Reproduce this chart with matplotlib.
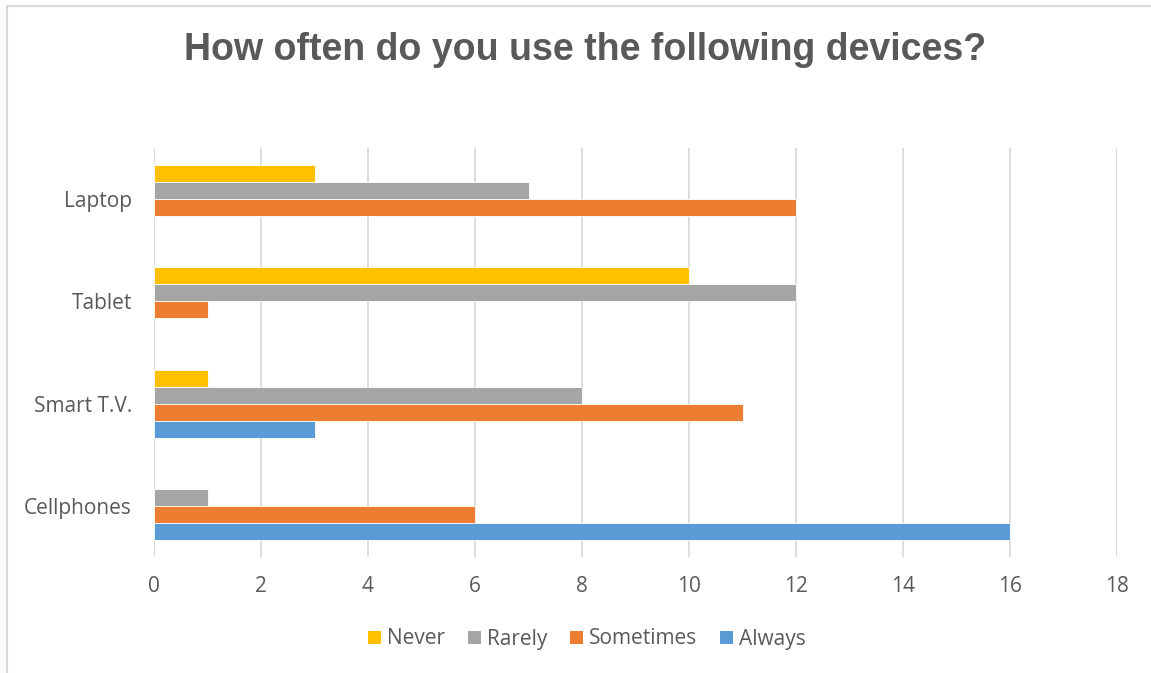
import matplotlib.pyplot as plt
from matplotlib.patches import Patch, Rectangle
import numpy as np

# Survey counts per device and frequency
devices = ['Cellphones', 'Smart T.V.', 'Tablet', 'Laptop']
series = ['Never', 'Rarely', 'Sometimes', 'Always']
never = [0, 1, 10, 3]
rarely = [1, 8, 12, 7]
sometimes = [6, 11, 1, 12]
always = [16, 3, 0, 0]
colors = ['#FFC000', '#A5A5A5', '#ED7D31', '#5B9BD5']

txt = '#595959'
fig = plt.figure(figsize=(11.51, 6.73), dpi=100)
ax = fig.add_axes([154 / 1151, 1 - 557 / 673, 963 / 1151, 409 / 673])

y = np.arange(len(devices))
h = 1 / 6
offsets = [1.5 * h, 0.5 * h, -0.5 * h, -1.5 * h]
for vals, off, c in zip([never, rarely, sometimes, always], offsets, colors):
    lw = [0.6 if v else 0 for v in vals]
    ax.barh(y + off, vals, height=h, color=c, edgecolor='white', linewidth=lw, zorder=3)

ax.set_xlim(0, 18)
ax.set_ylim(-0.5, 3.5)
ax.set_xticks(range(0, 19, 2))
ax.set_yticks(y)
ax.set_yticklabels(devices)
ax.grid(axis='x', color='#D9D9D9', linewidth=1.3, zorder=0)
for s in ax.spines.values():
    s.set_visible(False)
ax.tick_params(length=0, labelsize=15, labelcolor=txt)
ax.tick_params(axis='y', pad=16)
ax.tick_params(axis='x', pad=14)
for lab in ax.get_xticklabels() + ax.get_yticklabels():
    lab.set_family('Open Sans')

fig.text(585 / 1151, 1 - 50 / 673, 'How often do you use the following devices?',
         ha='center', va='center', fontsize=27, fontweight='bold',
         color=txt, family='Liberation Sans')

handles = [Patch(facecolor=c, label=s) for s, c in zip(series, colors)]
fig.legend(handles=handles, loc='center', bbox_to_anchor=(587 / 1151, 1 - 639 / 673),
           ncol=4, frameon=False, handlelength=0.6, handleheight=0.6,
           handletextpad=0.3, columnspacing=1.1,
           prop={'family': 'Open Sans', 'size': 15}, labelcolor=txt)

# chart frame
fig.add_artist(Rectangle((7 / 1151, -0.1), 2, 1 - 6 / 673 + 0.1, transform=fig.transFigure,
                         fill=False, edgecolor='#D9D9D9', linewidth=1.5))

fig.savefig('out.png', dpi=100)
